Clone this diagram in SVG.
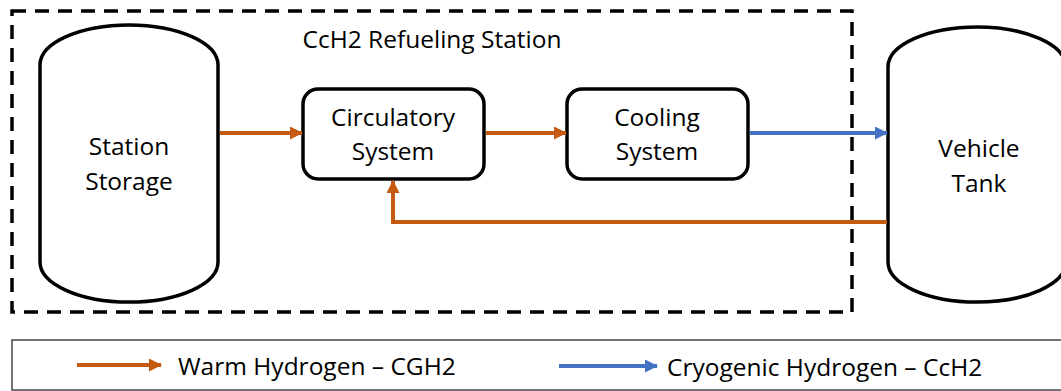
<svg xmlns="http://www.w3.org/2000/svg" width="1061" height="391" viewBox="0 0 1061 391">
  <defs>
    <marker id="ahO" markerWidth="13" markerHeight="13" refX="12" refY="6.5" orient="auto" markerUnits="userSpaceOnUse">
      <path d="M0,0 L13,6.5 L0,13 Z" fill="#C55A11"/>
    </marker>
    <marker id="ahB" markerWidth="13" markerHeight="13" refX="12" refY="6.5" orient="auto" markerUnits="userSpaceOnUse">
      <path d="M0,0 L13,6.5 L0,13 Z" fill="#4472C4"/>
    </marker>
  </defs>
  <style>
    .shape { fill: #ffffff; stroke: #000000; stroke-width: 3.5; }
    .lbl { font-family: "Open Sans", "Liberation Sans", sans-serif; font-size: 24.5px; fill: #000000; text-anchor: middle; }
    .leg { font-family: "Open Sans", "Liberation Sans", sans-serif; font-size: 24.5px; fill: #000000; }
    .warm { fill: none; stroke: #C55A11; stroke-width: 4; }
    .cryo { fill: none; stroke: #4472C4; stroke-width: 4; }
  </style>
  <rect width="1061" height="391" fill="#ffffff"/>

  <g id="station-boundary">
    <rect x="12" y="11" width="840" height="301" fill="none" stroke="#000000" stroke-width="3.5" stroke-dasharray="14 9"/>
    <text class="lbl" x="432" y="48">CcH2 Refueling Station</text>
  </g>

  <g id="station-storage">
    <rect class="shape" x="40" y="25" width="178" height="277" rx="89" ry="40"/>
    <text class="lbl" x="129" y="155">Station</text>
    <text class="lbl" x="129" y="190">Storage</text>
  </g>

  <g id="circulatory-system">
    <rect class="shape" x="303" y="89" width="181" height="90" rx="15" ry="15"/>
    <text class="lbl" x="393" y="126">Circulatory</text>
    <text class="lbl" x="393" y="160">System</text>
  </g>

  <g id="cooling-system">
    <rect class="shape" x="567" y="89" width="181" height="90" rx="15" ry="15"/>
    <text class="lbl" x="657" y="126">Cooling</text>
    <text class="lbl" x="657" y="160">System</text>
  </g>

  <g id="vehicle-tank">
    <rect class="shape" x="888" y="27" width="178" height="275" rx="89" ry="40"/>
    <text class="lbl" x="979" y="157">Vehicle</text>
    <text class="lbl" x="979" y="192">Tank</text>
  </g>

  <g id="connectors">
    <line class="warm" x1="220" y1="133" x2="302" y2="133" marker-end="url(#ahO)"/>
    <line class="warm" x1="486" y1="133" x2="566" y2="133" marker-end="url(#ahO)"/>
    <line class="cryo" x1="750" y1="133" x2="887" y2="133" marker-end="url(#ahB)"/>
    <polyline class="warm" points="887,222 393,222 393,181" marker-end="url(#ahO)"/>
  </g>

  <g id="legend">
    <rect x="12" y="340" width="1060" height="50" fill="#ffffff" stroke="#444444" stroke-width="1.5"/>
    <line class="warm" x1="77" y1="365" x2="161" y2="365" marker-end="url(#ahO)"/>
    <text class="leg" x="178" y="375">Warm Hydrogen – CGH2</text>
    <line class="cryo" x1="559" y1="366" x2="657" y2="366" marker-end="url(#ahB)"/>
    <text class="leg" x="667" y="376">Cryogenic Hydrogen – CcH2</text>
  </g>
</svg>
